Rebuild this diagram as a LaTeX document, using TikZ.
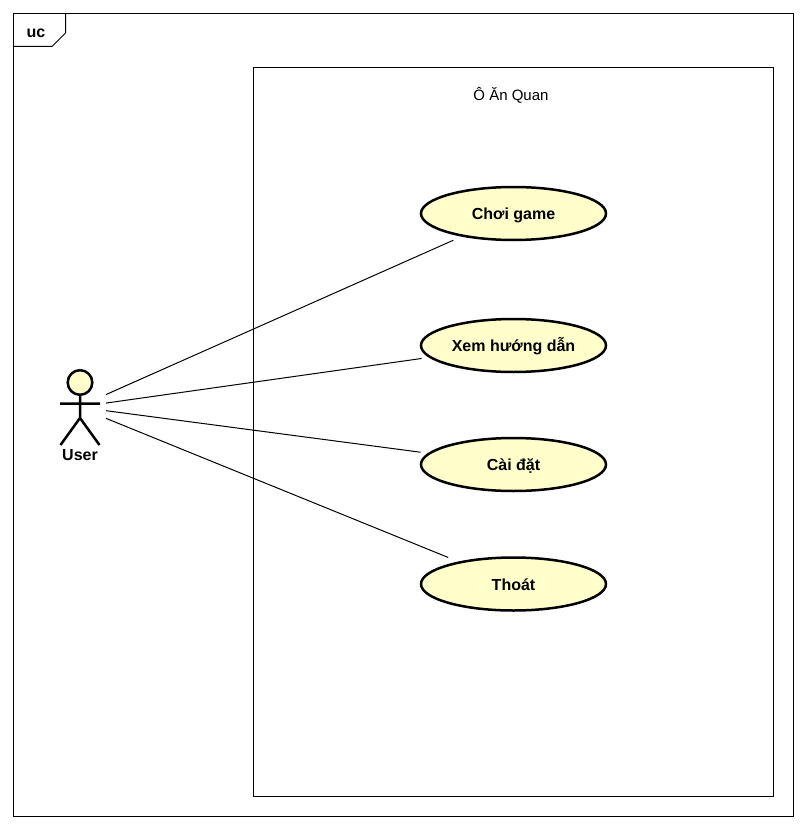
\documentclass[tikz,border=0pt]{standalone}
\usepackage{fontspec}
\setmainfont{Liberation Sans}
\usetikzlibrary{shapes.geometric}
\definecolor{ucfill}{HTML}{FFFFCC}
\tikzset{
  frameline/.style={draw=black,line width=1pt},
  usecase/.style={ellipse,draw=black,fill=ucfill,line width=2.5pt,minimum width=185pt,minimum height=53pt,inner sep=0pt,outer sep=0pt,text height=12pt,text depth=0pt,font=\fontsize{16pt}{18pt}\selectfont\bfseries},
  bold label/.style={inner sep=0pt,font=\fontsize{16pt}{18pt}\selectfont\bfseries},
  plain label/.style={inner sep=0pt,font=\fontsize{15pt}{18pt}\selectfont},
  assoc/.style={draw=black,line width=1pt},
  stick/.style={draw=black,line width=2.5pt}
}
\begin{document}
\begin{tikzpicture}[x=1pt,y=-1pt]
\useasboundingbox (0,0) rectangle (806,829);
\fill[white] (0,0) rectangle (806,829);
% frame
\draw[frameline] (13.5,13.5) rectangle (793.5,816.5);
\draw[frameline] (13.5,46.5) -- (52,46.5) -- (65.5,33) -- (65.5,13.5);
\node[bold label] (frametag) at (36,33) {uc};
% system boundary
\node[draw=black,line width=0.8pt,minimum width=520pt,minimum height=729pt,inner sep=0pt,outer sep=0pt] (system) at (513.5,432) {};
\node[plain label] (systitle) at (511,95) {Ô Ăn Quan};
% use cases
\node[usecase] (play) at (513.5,213.5) {Chơi game};
\node[usecase] (help) at (513.5,345.5) {Xem hướng dẫn};
\node[usecase] (settings) at (513.5,464.5) {Cài đặt};
\node[usecase] (quit) at (513.5,584) {Thoát};
% actor
\draw[stick,fill=ucfill] (80,382.5) circle (12.3pt);
\draw[stick] (80,395) -- (80,418) (60,403.5) -- (100,403.5) (60.5,445) -- (80,418) -- (99.5,445);
\node[bold label] (userlabel) at (80,455) {User};
\node[minimum width=56pt,minimum height=100pt,inner sep=0pt,outer sep=0pt] (user) at (78,407) {};
% associations
\draw[assoc,shorten >=11pt] (user) -- (play);
\draw[assoc,shorten >=9pt] (user) -- (help);
\draw[assoc,shorten >=9pt] (user) -- (settings);
\draw[assoc,shorten >=13pt] (user) -- (quit);
\end{tikzpicture}
\end{document}
